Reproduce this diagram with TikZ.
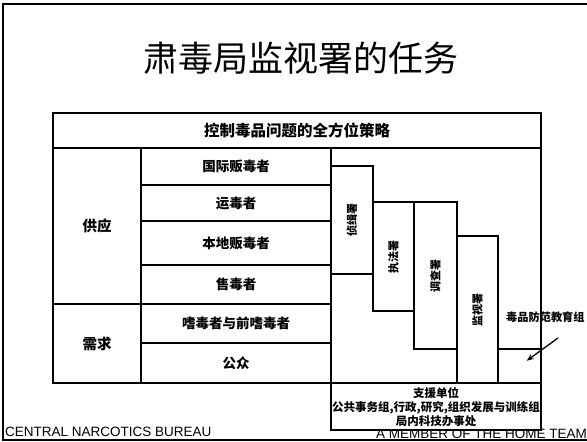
\documentclass[tikz,border=0pt]{standalone}
\usepackage{fontspec}
\setmainfont{Liberation Sans}
\newfontfamily\cjk{Noto Sans CJK SC}
\usetikzlibrary{arrows.meta}

\begin{document}
\begin{tikzpicture}[x=1pt, y=-1pt,
    cell/.style={draw, rectangle, line width=1.4pt, anchor=north west, inner sep=0pt, outer sep=0pt, align=center, font=\cjk\bfseries\fontsize{13.5}{16}\selectfont},
    group/.style={cell, font=\cjk\bfseries\fontsize{14.5}{17}\selectfont},
    vlabel/.style={rotate=90, inner sep=0pt, font=\cjk\bfseries\fontsize{11}{13}\selectfont},
    note/.style={inner sep=0pt, font=\cjk\bfseries\fontsize{11.2}{14}\selectfont},
    footer/.style={inner sep=0pt, font=\fontsize{13.5}{16}\selectfont},
    pointer/.style={-{Stealth[length=7pt, width=5.5pt]}, line width=1.3pt}
  ]

  \useasboundingbox (0,0) rectangle (587,442);

  % Slide frame
  \draw[line width=1.4pt] (590,4) -- (3,4) -- (3,440) -- (590,440);

  % Title
  \node[font=\cjk\fontsize{35}{40}\selectfont] (title) at (301,58) {肃毒局监视署的任务};

  % Strategy table
  \node[cell, minimum width=488pt, minimum height=35pt, font=\cjk\bfseries\fontsize{15.5}{18}\selectfont] (strategy) at (53,113) {控制毒品问题的全方位策略};

  \node[group, minimum width=88pt, minimum height=156pt] (supply) at (53,148) {供应};
  \node[group, minimum width=88pt, minimum height=79pt] (demand) at (53,304) {需求};

  \node[cell, minimum width=190pt, minimum height=37pt] (intl) at (141,148) {国际贩毒者};
  \node[cell, minimum width=190pt, minimum height=36pt] (courier) at (141,185) {运毒者};
  \node[cell, minimum width=190pt, minimum height=44pt] (local) at (141,221) {本地贩毒者};
  \node[cell, minimum width=190pt, minimum height=39pt] (pusher) at (141,265) {售毒者};
  \node[cell, minimum width=190pt, minimum height=39pt] (abuser) at (141,304) {嗜毒者与前嗜毒者};
  \node[cell, minimum width=190pt, minimum height=40pt] (public) at (141,343) {公众};

  % Divisions, stepped
  \node[cell, minimum width=210pt, minimum height=235pt] (divisions) at (331,148) {};
  \node[cell, minimum width=42pt, minimum height=108pt] (intel) at (331,166) {};
  \node[cell, minimum width=41pt, minimum height=109pt] (enforce) at (373,202) {};
  \node[cell, minimum width=43pt, minimum height=147pt] (investig) at (414,202) {};
  \node[cell, minimum width=41pt, minimum height=147pt] (monitor) at (457,236) {};
  \node[cell, minimum width=43pt, minimum height=34pt] (edu) at (498,349) {};

  \node[vlabel] (intellabel) at (intel.center) {侦缉署};
  \node[vlabel] (enforcelabel) at (enforce.center) {执法署};
  \node[vlabel] (investiglabel) at (investig.center) {调查署};
  \node[vlabel] (monitorlabel) at (monitor.center) {监视署};

  \node[note, anchor=west] (edulabel) at (506,317) {毒品防范教育组};
  \coordinate (edutail) at (558,338);
  \draw[pointer, shorten >=9pt] (edutail) -- (edu.center);

  % Footer
  \node[footer, anchor=base west] (bureau) at (5,436) {CENTRAL NARCOTICS BUREAU};
  \node[footer, anchor=base east] (team) at (587,438.5) {A MEMBER OF THE HOME TEAM};

  \node[cell, fill=white, minimum width=210pt, minimum height=47pt] (support) at (331,383) {};
  \node[inner sep=0pt, align=center, font=\cjk\bfseries\fontsize{11.5}{14}\selectfont] (supporttext) at ([yshift=-1pt]support.center) {支援单位\\公共事务组,行政,研究,组织发展与训练组\\局内科技办事处};

\end{tikzpicture}
\end{document}
